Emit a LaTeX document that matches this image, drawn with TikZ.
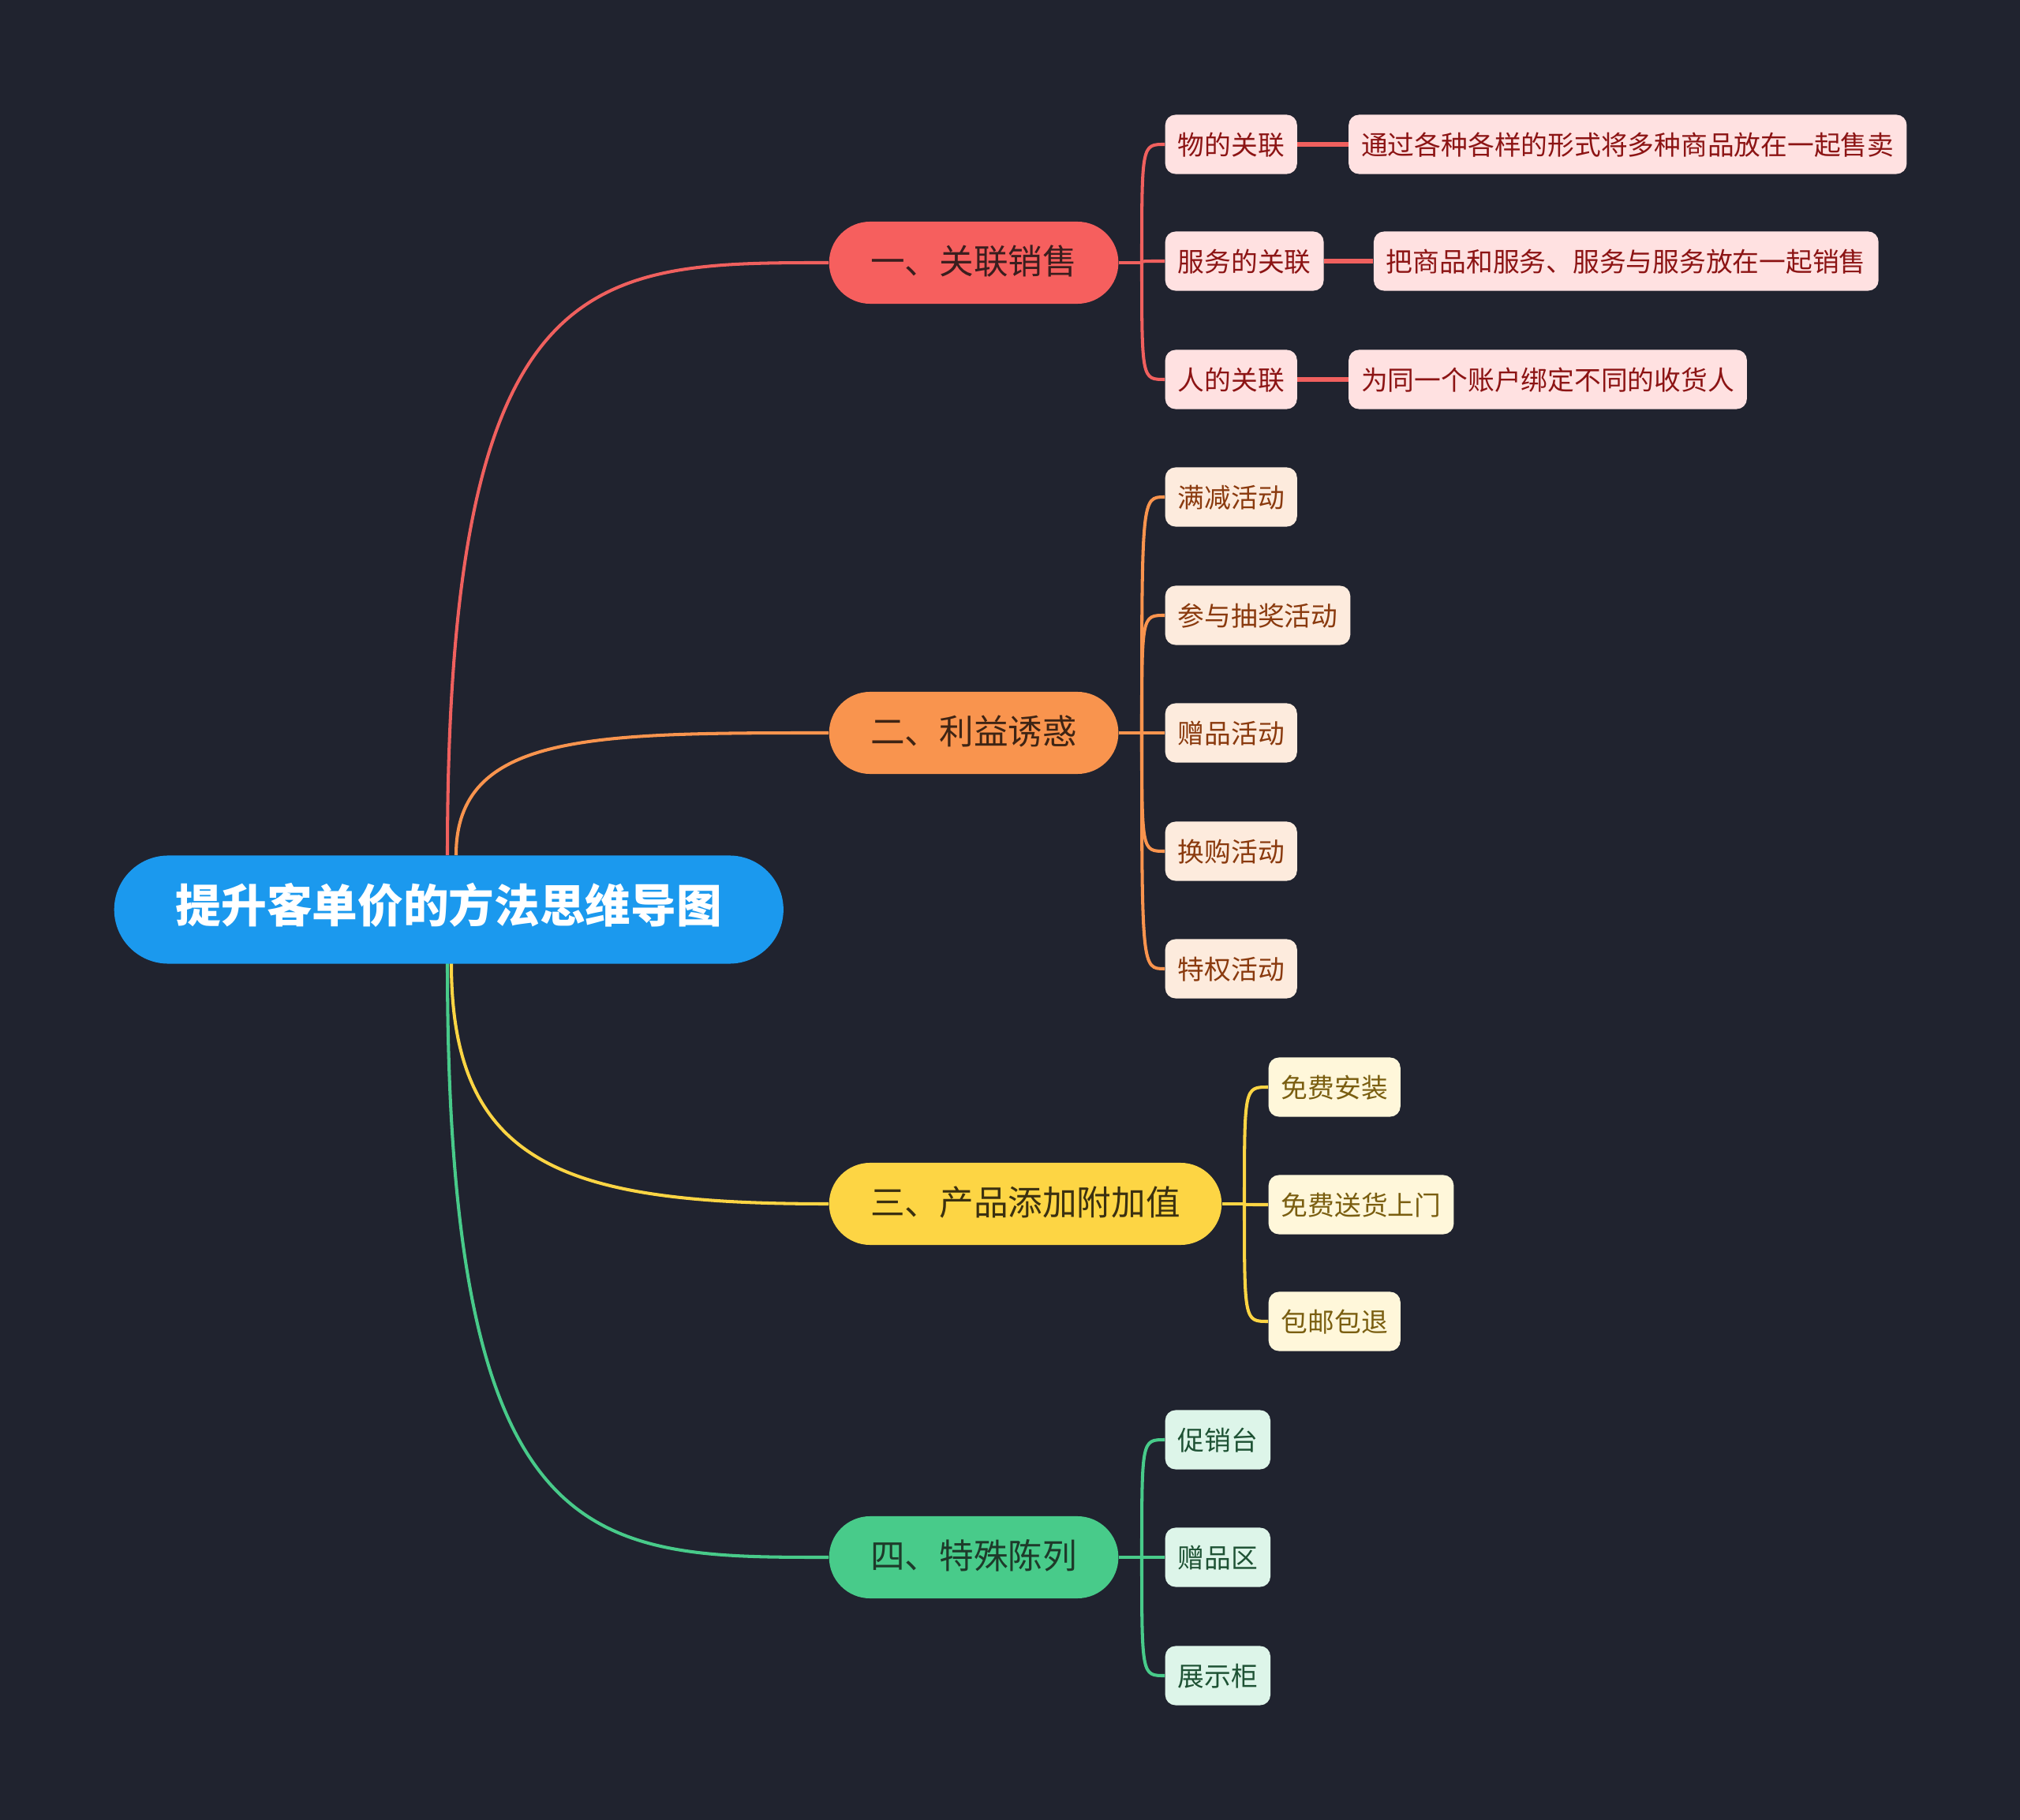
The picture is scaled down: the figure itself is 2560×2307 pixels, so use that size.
\documentclass[tikz,border=0pt]{standalone}
\usepackage{fontspec}
\setmainfont{Noto Sans CJK SC}
\usetikzlibrary{positioning,backgrounds}
\definecolor{bg}{HTML}{20232F}
\definecolor{rootc}{HTML}{1B99EE}
% branch colours
\definecolor{redc}{HTML}{F65F5E}
\definecolor{redline}{HTML}{F0605E}
\definecolor{redleaf}{HTML}{FFE1E1}
\definecolor{redtext}{HTML}{8C1414}
\definecolor{redbt}{HTML}{3A1E1E}
\definecolor{orac}{HTML}{F9944E}
\definecolor{oraleaf}{HTML}{FDEBDD}
\definecolor{oratext}{HTML}{8A3A0E}
\definecolor{orabt}{HTML}{3E2414}
\definecolor{yelc}{HTML}{FDD544}
\definecolor{yelleaf}{HTML}{FFF7DA}
\definecolor{yeltext}{HTML}{7A5E10}
\definecolor{yelbt}{HTML}{3B3010}
\definecolor{grnc}{HTML}{48CB8A}
\definecolor{grnleaf}{HTML}{DDF5E9}
\definecolor{grntext}{HTML}{1E5234}
\definecolor{grnbt}{HTML}{1E3A2A}
\begin{document}
\begin{tikzpicture}[x=0.01cm,y=-0.01cm,
  rootnode/.style={fill=rootc, text=white, font=\fontsize{16.4pt}{20pt}\selectfont\bfseries,
    minimum height=1.37cm, inner xsep=0.78cm, inner ysep=0pt, rounded corners=0.685cm,
    anchor=west, text height=0.98em, text depth=0.02em},
  branch/.style={minimum height=1.04cm, inner xsep=0.525cm, inner ysep=0pt,
    rounded corners=0.52cm, font=\fontsize{12.4pt}{15pt}\selectfont, anchor=west,
    text height=0.9em, text depth=0.1em},
  leaf/.style={minimum height=0.75cm, inner xsep=0.16cm, inner ysep=0pt,
    rounded corners=0.13cm, font=\fontsize{9.6pt}{12pt}\selectfont, anchor=west,
    text height=0.88em, text depth=0.12em},
  redleafs/.style={leaf, fill=redleaf, text=redtext},
  oraleafs/.style={leaf, fill=oraleaf, text=oratext},
  yelleafs/.style={leaf, fill=yelleaf, text=yeltext},
  grnleafs/.style={leaf, fill=grnleaf, text=grntext},
  mainline/.style={line width=1.15pt},
  subline/.style={line width=1.15pt},
  descline/.style={line width=1.7pt}
]
\useasboundingbox (0,0) rectangle (2560,2307);

% root
\node[rootnode] (root) at (144,1153) {提升客单价的方法思维导图};

% branches
\node[branch, fill=redc, text=redbt] (b1) at (1050,333) {一、关联销售};
\node[branch, fill=orac, text=orabt] (b2) at (1050,929) {二、利益诱惑};
\node[branch, fill=yelc, text=yelbt] (b3) at (1050,1526) {三、产品添加附加值};
\node[branch, fill=grnc, text=grnbt] (b4) at (1050,1974) {四、特殊陈列};

% branch 1 leaves
\node[redleafs] (l11) at (1476,183) {物的关联};
\node[redleafs] (l12) at (1476,331) {服务的关联};
\node[redleafs] (l13) at (1476,481) {人的关联};
\node[redleafs, right=0.64cm of l11] (d11) {通过各种各样的形式将多种商品放在一起售卖};
\node[redleafs, right=0.62cm of l12] (d12) {把商品和服务、服务与服务放在一起销售};
\node[redleafs, right=0.64cm of l13] (d13) {为同一个账户绑定不同的收货人};

% branch 2 leaves
\node[oraleafs] (l21) at (1476,630) {满减活动};
\node[oraleafs] (l22) at (1476,780) {参与抽奖活动};
\node[oraleafs] (l23) at (1476,929) {赠品活动};
\node[oraleafs] (l24) at (1476,1079) {换购活动};
\node[oraleafs] (l25) at (1476,1228) {特权活动};

% branch 3 leaves
\node[yelleafs] (l31) at (1607,1378) {免费安装};
\node[yelleafs] (l32) at (1607,1527) {免费送货上门};
\node[yelleafs] (l33) at (1607,1675) {包邮包退};

% branch 4 leaves
\node[grnleafs] (l41) at (1476,1825) {促销台};
\node[grnleafs] (l42) at (1476,1974) {赠品区};
\node[grnleafs] (l43) at (1476,2124) {展示柜};

% trunk coordinates
\coordinate (t1) at (1447,333);
\coordinate (t2) at (1447,929);
\coordinate (t3) at (1577,1526);
\coordinate (t4) at (1447,1974);
\coordinate (r1) at (567,1084);
\coordinate (r2) at (578,1084);
\coordinate (r3) at (572,1221);
\coordinate (r4) at (567,1221);

\begin{scope}[on background layer]
\fill[bg] (0,0) rectangle (2560,2307);
% root to branches
\draw[mainline, redline] (r1) .. controls (567,333) and (750,333) .. (b1.west);
\draw[mainline, orac] (r2) .. controls (578,929) and (750,929) .. (b2.west);
\draw[mainline, yelc] (r3) .. controls (572,1480) and (720,1526) .. (b3.west);
\draw[mainline, grnc] (r4) .. controls (567,1974) and (750,1974) .. (b4.west);

% branch 1
\draw[subline, redline] (b1.east) -- (t1);
\foreach \l in {l11,l12,l13}
  \draw[subline, redline] (t1) .. controls (t1 |- \l.west) .. (\l.west);
\draw[descline, redline] (l11) -- (d11);
\draw[descline, redline] (l12) -- (d12);
\draw[descline, redline] (l13) -- (d13);

% branch 2
\draw[subline, orac] (b2.east) -- (t2);
\foreach \l in {l21,l22,l23,l24,l25}
  \draw[subline, orac] (t2) .. controls (t2 |- \l.west) .. (\l.west);

% branch 3
\draw[subline, yelc] (b3.east) -- (t3);
\foreach \l in {l31,l32,l33}
  \draw[subline, yelc] (t3) .. controls (t3 |- \l.west) .. (\l.west);

% branch 4
\draw[subline, grnc] (b4.east) -- (t4);
\foreach \l in {l41,l42,l43}
  \draw[subline, grnc] (t4) .. controls (t4 |- \l.west) .. (\l.west);
\end{scope}
\end{tikzpicture}
\end{document}
